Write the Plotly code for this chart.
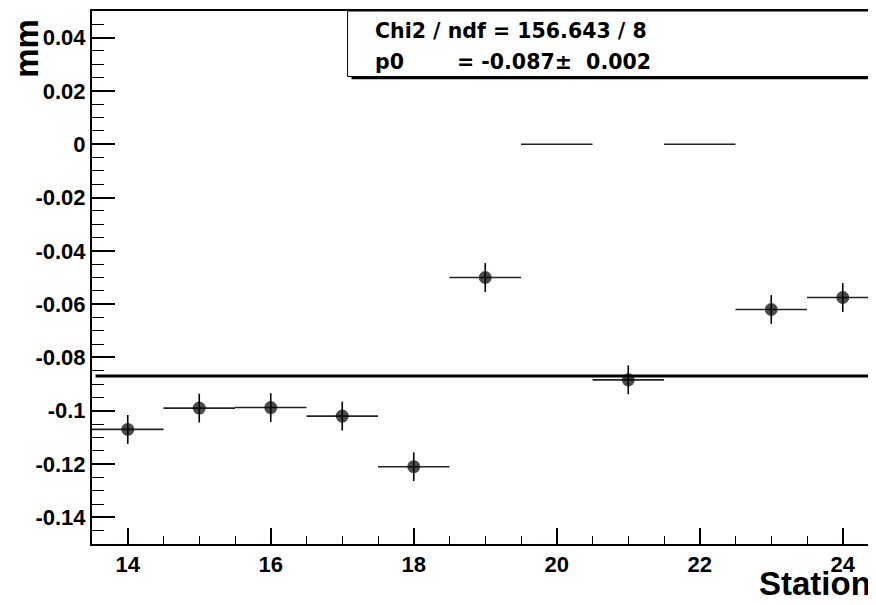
import plotly.graph_objects as go

stations = [14, 15, 16, 17, 18, 19, 20, 21, 22, 23, 24]
residuals = [-0.107, -0.099, -0.0988, -0.102, -0.121, -0.050, 0.0, -0.0884, 0.0, -0.062, -0.0575]
res_err = [0.0054, 0.0054, 0.0054, 0.0054, 0.0054, 0.0054, 0.0, 0.0054, 0.0, 0.0054, 0.0054]
bin_half = [0.5, 0.5, 0.5, 0.5, 0.5, 0.5, 0.5, 0.5, 0.5, 0.5, 0.5]
empty_bin = [False, False, False, False, False, False, True, False, True, False, False]
fit_p0 = -0.087
fit_range = [13.55, 24.5]

ytick_vals = [0.04, 0.02, 0, -0.02, -0.04, -0.06, -0.08, -0.1, -0.12, -0.14]
ytick_text = ["0.04", "0.02", "0", "-0.02", "-0.04", "-0.06", "-0.08", "-0.1", "-0.12", "-0.14"]
xtick_vals = [14, 16, 18, 20, 22, 24]
xtick_text = ["14", "16", "18", "20", "22", "24"]

stat_line1 = "Chi2 / ndf = 156.643 / 8"
stat_p0_name = "p0"
stat_p0_val = "= -0.087\u00b1  0.002"

FONT = "Liberation Sans, Arial, Helvetica, sans-serif"
STATFONT = "DejaVu Sans, Liberation Sans, Arial, sans-serif"

fig = go.Figure()

fig.add_trace(go.Scatter(
    x=stations, y=residuals, mode="markers",
    marker=dict(color="black", size=[0 if e else 13 for e in empty_bin], line=dict(width=0)),
    error_y=dict(type="data", array=res_err, visible=True, width=0, thickness=1.6, color="black"),
    error_x=dict(type="data", array=bin_half, visible=True, width=0, thickness=1.6, color="#222"),
    showlegend=False, hoverinfo="skip",
))

fig.add_trace(go.Scatter(
    x=fit_range, y=[fit_p0, fit_p0], mode="lines",
    line=dict(color="black", width=3), showlegend=False, hoverinfo="skip",
))

# stats box (shadow + box)
fig.add_shape(type="rect", xref="paper", yref="paper",
              x0=0.331, x1=1.05, y0=0.872, y1=1.0,
              fillcolor="black", line=dict(width=0), layer="above")
fig.add_shape(type="rect", xref="paper", yref="paper",
              x0=0.326, x1=1.05, y0=0.877, y1=1.0,
              fillcolor="white", line=dict(color="black", width=1), layer="above")

fig.add_annotation(xref="paper", yref="paper", x=0.3584, y=0.962, text=stat_line1,
                   showarrow=False, xanchor="left", yanchor="middle",
                   font=dict(family=STATFONT, size=20.5, color="black", weight="bold"))
fig.add_annotation(xref="paper", yref="paper", x=0.3584, y=0.905, text=stat_p0_name,
                   showarrow=False, xanchor="left", yanchor="middle",
                   font=dict(family=STATFONT, size=20.5, color="black", weight="bold"))
fig.add_annotation(xref="paper", yref="paper", x=0.4625, y=0.905, text=stat_p0_val,
                   showarrow=False, xanchor="left", yanchor="middle",
                   font=dict(family=STATFONT, size=20.5, color="black", weight="bold"))

# axis titles
fig.add_annotation(xref="paper", yref="paper", x=-0.083, y=0.99, text="mm",
                   showarrow=False, xanchor="center", yanchor="top", textangle=-90,
                   font=dict(family=FONT, size=33, color="black", weight="bold"))
fig.add_annotation(xref="paper", yref="paper", x=0.996, y=-0.1126, text="Station",
                   showarrow=False, xanchor="right", yanchor="bottom",
                   font=dict(family=FONT, size=33, color="black", weight="bold"))

# page body has an 8px margin: size the figure so the plot frame sits where the reference has it
fig.update_layout(
    width=868, height=597,
    margin=dict(l=84, r=0, t=3, b=61),
    paper_bgcolor="white", plot_bgcolor="white",
    font=dict(family=FONT, color="black"),
)

fig.update_xaxes(
    range=[13.5, 24.465], showgrid=False, zeroline=False, automargin=False,
    showline=True, linecolor="black", linewidth=2, mirror=True,
    ticks="inside", ticklen=16, tickwidth=1.5, tickcolor="black",
    tickvals=xtick_vals, ticktext=xtick_text,
    minor=dict(ticks="inside", ticklen=8, tickwidth=1.2, tickcolor="black", dtick=0.5, tick0=13.5, showgrid=False),
    tickfont=dict(family=FONT, size=22, color="black", weight="bold"),
)
fig.update_yaxes(
    range=[-0.15, 0.05], showgrid=False, zeroline=False, automargin=False,
    showline=True, linecolor="black", linewidth=2, mirror=False,
    ticks="inside", ticklen=23, tickwidth=1.5, tickcolor="black",
    tickvals=ytick_vals, ticktext=ytick_text,
    minor=dict(ticks="inside", ticklen=12, tickwidth=1.2, tickcolor="black", dtick=0.005, tick0=0, showgrid=False),
    tickfont=dict(family=FONT, size=22, color="black", weight="bold"),
)

fig.write_html("out.html")
